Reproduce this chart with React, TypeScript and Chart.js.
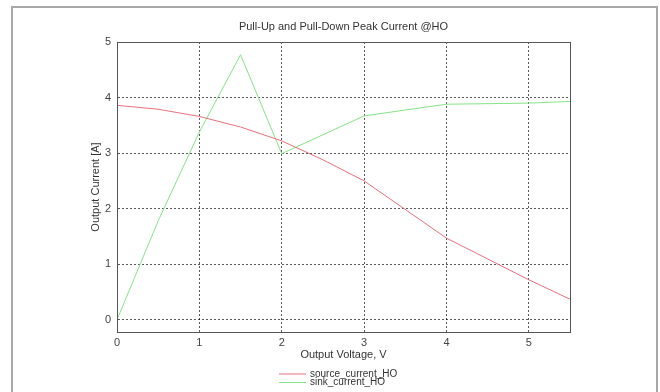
import React, { useEffect, useRef } from "react";
import { Chart, registerables } from "chart.js";

Chart.register(...registerables);

const sourceVoltage = [0, 0.5, 1, 1.5, 2, 2.5, 3, 4, 5, 5.5];
const sourceCurrent = [3.86, 3.79, 3.66, 3.47, 3.22, 2.88, 2.5, 1.47, 0.72, 0.37];
const sinkVoltage = [0, 0.5, 1, 1.5, 2, 3, 4, 5, 5.5];
const sinkCurrent = [0, 1.78, 3.38, 4.77, 2.99, 3.67, 3.88, 3.9, 3.93];
const seriesNames = ["source_current_HO", "sink_current_HO"];
const chartTitle = "Pull-Up and Pull-Down Peak Current @HO";
const xTitle = "Output Voltage, V";
const yTitle = "Output Current [A]";

const RED = "#e8707c";
const GREEN = "#86e486";
const FONT = "'Liberation Sans', Arial, sans-serif";

const decorPlugin = {
  id: "decor",
  beforeDraw(chart: any) {
    const ctx = chart.ctx;
    ctx.save();
    ctx.fillStyle = "#ffffff";
    ctx.fillRect(0, 0, chart.width, chart.height);
    ctx.strokeStyle = "#a8a8a8";
    ctx.lineWidth = 2;
    ctx.beginPath();
    ctx.moveTo(12, 400);
    ctx.lineTo(12, 7);
    ctx.lineTo(657, 7);
    ctx.lineTo(657, 400);
    ctx.stroke();
    ctx.restore();
  },
  afterDraw(chart: any) {
    const ctx = chart.ctx;
    const a = chart.chartArea;
    ctx.save();
    ctx.strokeStyle = "#555";
    ctx.lineWidth = 1;
    ctx.strokeRect(Math.round(a.left) + 0.5, Math.round(a.top) + 0.5, Math.round(a.right - a.left), Math.round(a.bottom - a.top));
    const cx = (a.left + a.right) / 2;
    ctx.fillStyle = "#333";
    ctx.font = `11px ${FONT}`;
    ctx.textAlign = "center";
    ctx.textBaseline = "middle";
    ctx.fillText(chartTitle, cx, 27);
    ctx.fillText(xTitle, cx, 355);
    ctx.save();
    ctx.translate(96, (a.top + a.bottom) / 2);
    ctx.rotate(-Math.PI / 2);
    ctx.fillText(yTitle, 0, 0);
    ctx.restore();
    // legend
    const colors = [RED, GREEN];
    const rows = [374, 382.5];
    ctx.font = `10px ${FONT}`;
    ctx.textAlign = "left";
    for (let i = 0; i < seriesNames.length; i++) {
      ctx.strokeStyle = colors[i];
      ctx.lineWidth = 1;
      ctx.beginPath();
      ctx.moveTo(279, rows[i]);
      ctx.lineTo(306, rows[i]);
      ctx.stroke();
      ctx.fillStyle = "#333";
      ctx.fillText(seriesNames[i], 310, rows[i]);
    }
    ctx.restore();
  },
};

export default function App() {
  const ref = useRef<HTMLCanvasElement | null>(null);
  useEffect(() => {
    if (!ref.current) return;
    const chart = new Chart(ref.current, {
      type: "line",
      data: {
        datasets: [
          {
            label: seriesNames[0],
            data: sourceVoltage.map((x, i) => ({ x, y: sourceCurrent[i] })),
            borderColor: RED,
            borderWidth: 1,
            pointRadius: 0,
            tension: 0,
          },
          {
            label: seriesNames[1],
            data: sinkVoltage.map((x, i) => ({ x, y: sinkCurrent[i] })),
            borderColor: GREEN,
            borderWidth: 1,
            pointRadius: 0,
            tension: 0,
          },
        ],
      },
      options: {
        responsive: false,
        animation: false,
        layout: { padding: { left: 97, top: 42, right: 90, bottom: 40 } },
        plugins: {
          legend: { display: false },
          title: { display: false },
          tooltip: { enabled: false },
        },
        scales: {
          x: {
            type: "linear",
            min: 0,
            max: 5.5,
            afterFit: (s: any) => {
              s.height = 20;
            },
            ticks: {
              stepSize: 1,
              includeBounds: false,
              padding: 4,
              color: "#444",
              font: { family: FONT, size: 11 },
              maxRotation: 0,
            },
            grid: { color: "rgba(0,0,0,0.65)", drawTicks: false, lineWidth: 1 },
            border: { color: "#555", dash: [2, 2] },
          },
          y: {
            type: "linear",
            min: -0.22,
            max: 5,
            afterFit: (s: any) => {
              s.width = 20;
            },
            ticks: {
              stepSize: 1,
              includeBounds: false,
              padding: 6,
              color: "#444",
              font: { family: FONT, size: 11 },
            },
            grid: { color: "rgba(0,0,0,0.65)", drawTicks: false, lineWidth: 1 },
            border: { color: "#555", dash: [2, 2] },
          },
        },
      },
      plugins: [decorPlugin],
    } as any);
    return () => chart.destroy();
  }, []);
  return (
    <div style={{ position: "fixed", left: 0, top: 0, width: 660, height: 392, background: "#fff" }}>
      <canvas ref={ref} width={660} height={392} style={{ display: "block" }} />
    </div>
  );
}
